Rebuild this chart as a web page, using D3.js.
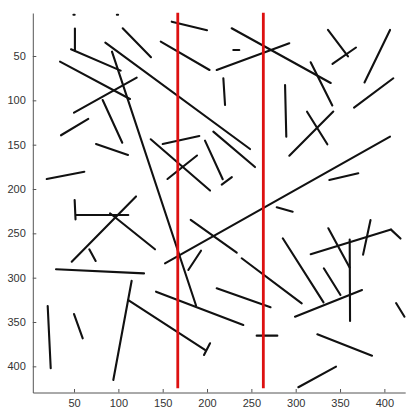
<!DOCTYPE html>
<html>
<head>
<meta charset="utf-8">
<script src="https://cdn.jsdelivr.net/npm/d3@7"></script>
<style>
  body { margin: 0; background: #fff; }
  .axis text { font-family: "Liberation Sans", Arial, sans-serif; font-size: 11px; fill: #333; }
  .axis path, .axis line { stroke: #555; }
</style>
</head>
<body>
<div id="chart"></div>
<script>
// detected segments, image coordinates [x1, y1, x2, y2]
const segments = [
  [49.3, 3.4, 50.7, 3.4],
  [98.3, 3.4, 99.7, 3.4],
  [51, 19, 51, 44],
  [46.6, 42.4, 102.6, 66.5],
  [34.2, 56.4, 113.1, 98.5],
  [104.9, 18.7, 136.8, 51.4],
  [85.3, 35, 248.5, 154.9],
  [92.8, 45.1, 187.6, 331.4],
  [50, 113.9, 120.7, 74.4],
  [82.3, 99.6, 104.4, 147.8],
  [35.3, 139.4, 66.1, 121],
  [74.8, 149.2, 110.9, 161.6],
  [19.2, 188.7, 61.6, 180.5],
  [136.5, 143.9, 203.4, 201.7],
  [150, 149.2, 191.3, 140.2],
  [155.4, 188.7, 188.7, 162.2],
  [160.2, 11.3, 200, 21],
  [147.8, 33.8, 202.8, 65.8],
  [227.8, 18.7, 339.5, 80.4],
  [229.6, 43.2, 236.4, 43.2],
  [210.9, 65.8, 292.8, 35.6],
  [218.4, 75.1, 220.3, 105.2],
  [288, 82.7, 289.4, 141],
  [316.9, 57.1, 341.3, 105.8],
  [336.4, 20.6, 359, 50.5],
  [341.5, 59, 368, 40.4],
  [406.4, 20.6, 377.6, 79.9],
  [410.1, 75.1, 365.8, 108.3],
  [342.4, 112.6, 292.8, 162.4],
  [312.8, 112.8, 335.7, 149.6],
  [406.4, 141, 152.6, 283.8],
  [337.9, 189.8, 370.6, 182.3],
  [278.6, 220.6, 296.6, 225.6],
  [207.1, 135.3, 254.1, 175.2],
  [216.6, 195, 228, 186.5],
  [197.7, 145.5, 217.7, 189],
  [50.7, 212.4, 51.7, 234.2],
  [52.2, 229.3, 111.2, 229.3],
  [47.4, 282, 119.9, 208.4],
  [90.6, 227.4, 141.3, 268],
  [67.2, 268, 74.4, 281.2],
  [29.7, 290.5, 128.9, 295.1],
  [115, 303.4, 94.3, 415.4],
  [111.2, 325.2, 197.7, 381.5],
  [196.6, 387.2, 203.4, 374],
  [20.3, 332, 23.7, 402.2],
  [50, 341, 59.8, 368.4],
  [142.5, 315.8, 240.9, 353.4],
  [178.9, 291.3, 193.2, 269.6],
  [181.6, 234.9, 233.5, 271.8],
  [239.1, 278.1, 306.8, 328.9],
  [210.9, 312, 271.6, 333.4],
  [256, 365.4, 279.3, 365.4],
  [285.4, 255.6, 331.4, 327.8],
  [299.2, 344, 374.8, 313.9],
  [331.7, 289.4, 350.5, 319.5],
  [336.8, 244.3, 360.8, 288.5],
  [360.9, 257, 361.3, 348.9],
  [316.9, 273.5, 407.5, 245.8],
  [407.5, 245.8, 418.2, 255.9],
  [384.4, 234.9, 376, 274],
  [413.2, 328.6, 422.7, 344],
  [324.4, 363.9, 386.1, 388],
  [303, 423.6, 345.5, 400.4]
];

// vertical boundaries in red
const redLineX = [167, 263.5];
const redLineY = [1.1, 424.8];

const xTicks = [50, 100, 150, 200, 250, 300, 350, 400];
const yTicks = [50, 100, 150, 200, 250, 300, 350, 400];
const xDomain = [3.5, 423.5];
const yDomain = [1.5, 429.5];

const W = 415, H = 413;

const svg = d3.select("#chart").append("svg")
  .attr("width", W)
  .attr("height", H);

const x = d3.scaleLinear().domain(xDomain).range([32.8, 405.2]);
const y = d3.scaleLinear().domain(yDomain).range([13, 392.5]); // image axis, y down

// segments
svg.append("g")
  .selectAll("line")
  .data(segments)
  .join("line")
  .attr("x1", d => x(d[0]))
  .attr("y1", d => y(d[1]))
  .attr("x2", d => x(d[2]))
  .attr("y2", d => y(d[3]))
  .attr("stroke", "#111")
  .attr("stroke-width", 2.1)
  .attr("stroke-linecap", "round");

// red lines
svg.append("g")
  .selectAll("line")
  .data(redLineX)
  .join("line")
  .attr("x1", d => x(d))
  .attr("x2", d => x(d))
  .attr("y1", y(redLineY[0]))
  .attr("y2", y(redLineY[1]))
  .attr("stroke", "#dd1010")
  .attr("stroke-width", 2.8);

// axes, ticks pointing inward
const xAxis = d3.axisBottom(x).tickValues(xTicks).tickSizeInner(-3.5).tickSizeOuter(0).tickPadding(7);
const yAxis = d3.axisLeft(y).tickValues(yTicks).tickSizeInner(-3.5).tickSizeOuter(0).tickPadding(7);

svg.append("g")
  .attr("class", "axis")
  .attr("transform", `translate(0,${y(yDomain[1])})`)
  .call(xAxis);

svg.append("g")
  .attr("class", "axis")
  .attr("transform", `translate(${x(xDomain[0])},0)`)
  .call(yAxis);
</script>
</body>
</html>
